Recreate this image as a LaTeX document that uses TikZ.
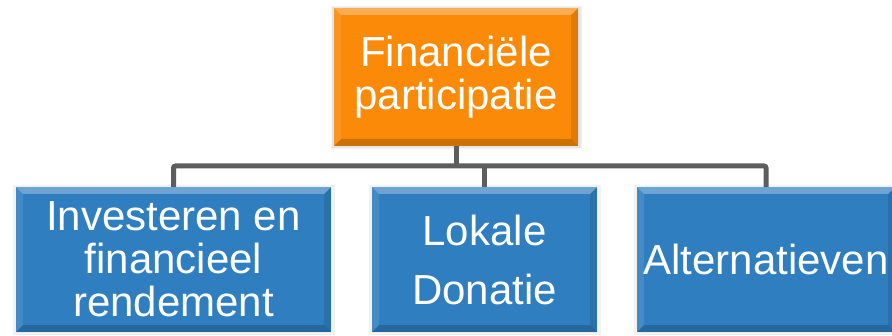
\documentclass[tikz,border=0pt]{standalone}
\usepackage{fontspec}
\setmainfont{Liberation Sans}
\usetikzlibrary{calc}
\definecolor{orangeC}{RGB}{250,138,8}
\definecolor{blueC}{RGB}{47,126,192}
\definecolor{connC}{RGB}{93,93,93}
\tikzset{
  bev/.style={path picture={
    \def\b{7pt}
    \coordinate (nw) at (path picture bounding box.north west);
    \coordinate (ne) at (path picture bounding box.north east);
    \coordinate (sw) at (path picture bounding box.south west);
    \coordinate (se) at (path picture bounding box.south east);
    \fill[white,opacity=0.30] (nw) -- (ne) -- ($(ne)+(-\b,-\b)$) -- ($(nw)+(\b,-\b)$) -- cycle;
    \fill[white,opacity=0.10] (nw) -- (sw) -- ($(sw)+(\b,\b)$) -- ($(nw)+(\b,-\b)$) -- cycle;
    \fill[black,opacity=0.10] (ne) -- (se) -- ($(se)+(-\b,\b)$) -- ($(ne)+(-\b,-\b)$) -- cycle;
    \fill[black,opacity=0.18] (sw) -- (se) -- ($(se)+(-\b,\b)$) -- ($(sw)+(\b,\b)$) -- cycle;
  }},
  boxbase/.style={bev, inner sep=0pt, align=center, text=white,
    font=\fontsize{42}{43}\selectfont},
  orangebox/.style={boxbase, fill=orangeC},
  bluebox/.style={boxbase, fill=blueC},
  conn/.style={draw=connC, line width=5pt},
  shadowbox/.style={fill=black, opacity=0.05}
}
\begin{document}
\begin{tikzpicture}[x=1pt,y=1pt]
\useasboundingbox (0,0) rectangle (892,335);
% shadows
\fill[shadowbox] (331,186) rectangle (582,329);
\fill[shadowbox] (332,187) rectangle (581,328);
\fill[shadowbox] (13,0) rectangle (335,150);
\fill[shadowbox] (369,0) rectangle (601,150);
\fill[shadowbox] (634,0) rectangle (892,150);
% boxes
\node[orangebox, minimum width=244pt, minimum height=138pt] (fin) at (456,258) {Financiële\\participatie};
\node[bluebox, minimum width=315pt, minimum height=145pt] (inv) at (173.5,75.5) {Investeren en\\financieel\\rendement};
\node[bluebox, minimum width=225pt, minimum height=145pt] (lok) at (484.5,75.5) {Lokale\\[16pt]Donatie};
\node[bluebox, minimum width=258pt, minimum height=145pt] (alt) at (766,75.5) {Alternatieven};
% connectors
\coordinate (hub) at (456,169);
\draw[conn] (fin.south) -- (fin.south |- hub);
\draw[conn, rounded corners=2pt] (inv.north) |- (alt.north |- hub) -- (alt.north);
\draw[conn] (lok.north) -- (lok.north |- hub);
\end{tikzpicture}
\end{document}
